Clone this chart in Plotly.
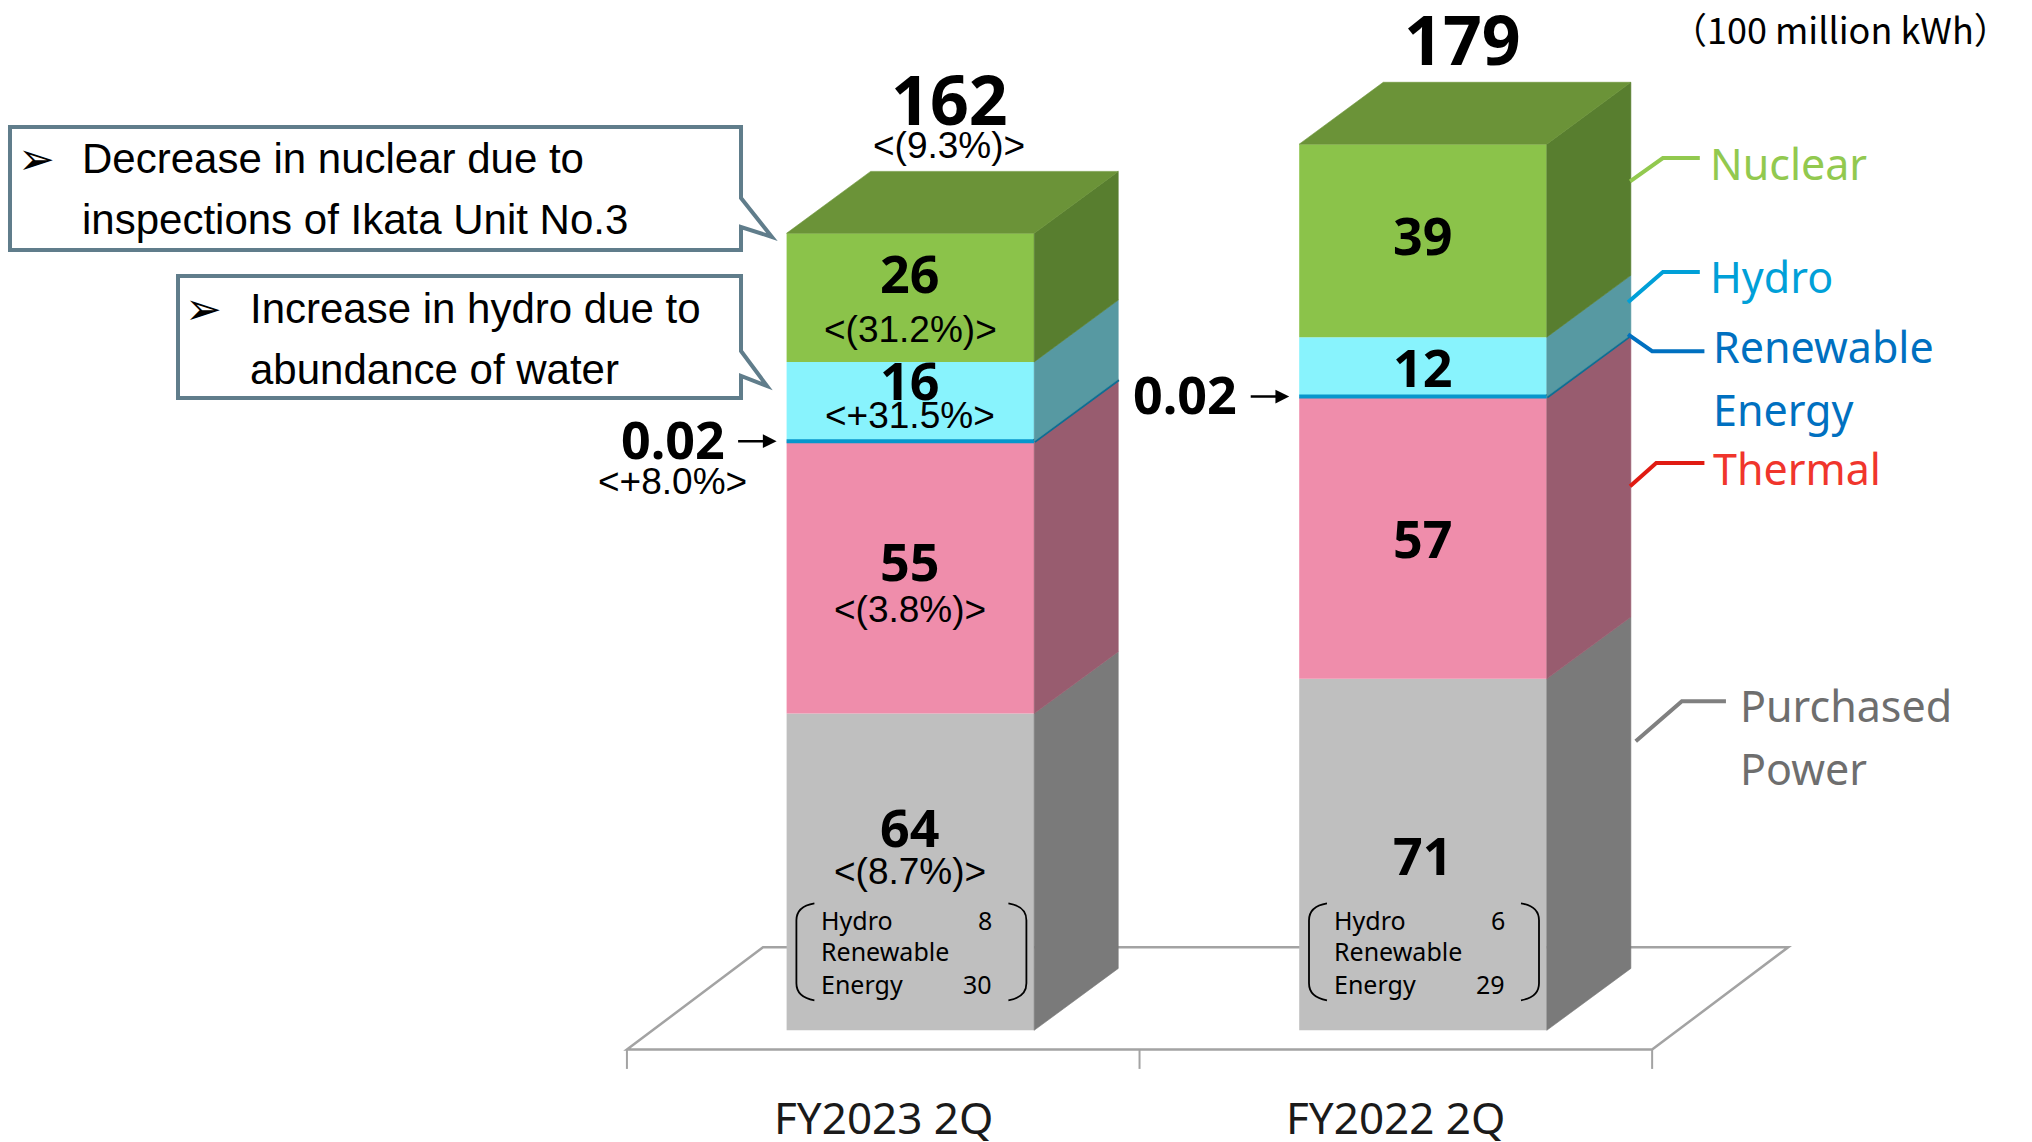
import plotly.graph_objects as go

# ---------------- data ----------------
categories = ["FY2023 2Q", "FY2022 2Q"]
purchased = [64, 71]
thermal = [55, 57]
renewable = [0.02, 0.02]
hydro = [16, 12]
nuclear = [26, 39]
totals = [162, 179]

total_change = ["<(9.3%)>", ""]
purchased_change = ["<(8.7%)>", ""]
thermal_change = ["<(3.8%)>", ""]
renewable_change = ["<+8.0%>", ""]
hydro_change = ["<+31.5%>", ""]
nuclear_change = ["<(31.2%)>", ""]

purchased_hydro = [8, 6]
purchased_renewable = [30, 29]

legend_names = ["Nuclear", "Hydro", "Renewable<br>Energy", "Thermal", "Purchased<br>Power"]
unit_label = "（100 million kWh）"
callout_lines = [
    ["Decrease in nuclear due to", "inspections of Ikata Unit No.3"],
    ["Increase in hydro due to", "abundance of water"],
]

# ---------------- geometry / style ----------------
W, H = 2032, 1142
X0PX, XU = 910.4, 512.6      # pixel of x=0, pixels per x unit
Y0PX, YU = 1030.3, 4.95      # pixel (from top) of y=0, pixels per value unit
XR = [-X0PX / XU, (W - X0PX) / XU]
YR = [(Y0PX - H) / YU, Y0PX / YU]
BW, DX, DY = 0.483, 0.164, 12.5
xpos = [0, 1]

C = dict(
    nuc_f="#8BC34A", nuc_s="#587E2F", nuc_t="#6B9338",
    hyd_f="#88F3FD", hyd_s="#5799A2",
    ren_f="#0797CC", ren_s="#0E6E93",
    the_f="#EF8DAB", the_s="#985C6F",
    pur_f="#BFBFBF", pur_s="#7A7A7A",
)

NUMF = "Noto Sans"
PCTF = "Liberation Sans"

fig = go.Figure()

# floor (below everything)
fl_x0, fl_x1 = -0.553, 1.447
fl_y0, fl_dx, fl_dy = -3.9, 0.2655, 20.7
fig.add_shape(type="path", xref="x", yref="y", layer="below",
              path=f"M {fl_x0},{fl_y0} L {fl_x1},{fl_y0} L {fl_x1+fl_dx},{fl_y0+fl_dy} "
                   f"L {fl_x0+fl_dx},{fl_y0+fl_dy} Z",
              fillcolor="white", line=dict(color="#A3A3A3", width=2.5))
for tx in [fl_x0, (fl_x0 + fl_x1) / 2, fl_x1]:
    fig.add_shape(type="line", xref="x", yref="y", layer="below",
                  x0=tx, x1=tx, y0=fl_y0, y1=fl_y0 - 3.9,
                  line=dict(color="#A3A3A3", width=2))

segments = [
    ("purchased", purchased, C["pur_f"], C["pur_s"]),
    ("thermal", thermal, C["the_f"], C["the_s"]),
    ("renewable", renewable, C["ren_f"], C["ren_s"]),
    ("hydro", hydro, C["hyd_f"], C["hyd_s"]),
    ("nuclear", nuclear, C["nuc_f"], C["nuc_s"]),
]

bases = [0.0, 0.0]
seg_bounds = {}
for name, vals, fcol, scol in segments:
    b = list(bases)
    seg_bounds[name] = [(b[i], b[i] + vals[i]) for i in range(2)]
    if name != "renewable":
        fig.add_trace(go.Bar(x=xpos, y=vals, base=b, width=BW, marker=dict(color=fcol, line=dict(width=0)),
                             showlegend=False, hoverinfo="skip"))
    for i, c in enumerate(xpos):
        y0, y1 = b[i], b[i] + vals[i]
        xr_ = c + BW / 2
        if name == "renewable":
            fig.add_trace(go.Scatter(x=[c - BW / 2, xr_], y=[y1, y1], mode="lines",
                                     line=dict(color=fcol, width=4), showlegend=False, hoverinfo="skip"))
            fig.add_trace(go.Scatter(x=[xr_, xr_ + DX], y=[y1, y1 + DY], mode="lines",
                                     line=dict(color=scol, width=4), showlegend=False, hoverinfo="skip"))
        else:
            fig.add_trace(go.Scatter(x=[xr_, xr_ + DX, xr_ + DX, xr_, xr_],
                                     y=[y0, y0 + DY, y1 + DY, y1, y0],
                                     fill="toself", fillcolor=scol, mode="lines",
                                     line=dict(color=scol, width=0.6), showlegend=False, hoverinfo="skip"))
    bases = [bases[i] + vals[i] for i in range(2)]

# top faces
for i, c in enumerate(xpos):
    t = bases[i]
    xl, xr_ = c - BW / 2, c + BW / 2
    fig.add_trace(go.Scatter(x=[xl, xr_, xr_ + DX, xl + DX, xl], y=[t, t, t + DY, t + DY, t],
                             fill="toself", fillcolor=C["nuc_t"], mode="lines",
                             line=dict(color=C["nuc_t"], width=0.6), showlegend=False, hoverinfo="skip"))

ann = []

def A(**kw):
    kw.setdefault("showarrow", False)
    kw.setdefault("xanchor", "center")
    kw.setdefault("yanchor", "middle")
    ann.append(kw)

# segment labels
num_vals = {"purchased": purchased, "thermal": thermal, "hydro": hydro, "nuclear": nuclear}
pct_vals = {"purchased": purchased_change, "thermal": thermal_change, "hydro": hydro_change, "nuclear": nuclear_change}
num_shift = {"nuclear": [25, 6], "hydro": [22, 0], "thermal": [17, 0], "purchased": [45, 0]}
pct_shift = {"nuclear": -32, "hydro": -14, "thermal": -32, "purchased": 0}
for name in ["purchased", "thermal", "hydro", "nuclear"]:
    for i, c in enumerate(xpos):
        y0, y1 = seg_bounds[name][i]
        mid = (y0 + y1) / 2
        A(x=c, y=mid, xref="x", yref="y", yshift=num_shift[name][i],
          text=f"<b>{num_vals[name][i]}</b>", font=dict(family=NUMF, size=52, color="black"))
        if pct_vals[name][i]:
            A(x=c, y=mid, xref="x", yref="y", yshift=pct_shift[name],
              text=pct_vals[name][i], font=dict(family=PCTF, size=37, color="black"))

# purchased breakdown
for i, c in enumerate(xpos):
    rows = [("Hydro", str(purchased_hydro[i]), 110), ("Renewable", "", 79), ("Energy", str(purchased_renewable[i]), 46)]
    for lab, v, ys in rows:
        A(x=c, y=0, xref="x", yref="y", xshift=-91, yshift=ys, xanchor="left",
          text=lab, font=dict(family="Noto Sans", size=25, color="black"))
        if v:
            A(x=c, y=0, xref="x", yref="y", xshift=84, yshift=ys, xanchor="right",
              text=v, font=dict(family="Noto Sans", size=25, color="black"))
    for path in ["M -96,127 Q -114,124 -114,110 L -114,47 Q -114,33 -96,30",
                 "M 98,127 Q 116,124 116,110 L 116,47 Q 116,33 98,30"]:
        fig.add_shape(type="path", xref="x", yref="y", xsizemode="pixel", ysizemode="pixel",
                      xanchor=c, yanchor=0, path=path, line=dict(color="black", width=1.8))

# renewable arrows
for i, c in enumerate(xpos):
    lvl = seg_bounds["renewable"][i][1]
    xl = c - BW / 2
    A(x=xl, y=lvl, xref="x", yref="y", xshift=-10, showarrow=True, ax=-40, ay=0,
      arrowhead=2, arrowsize=1.1, arrowwidth=2.5, arrowcolor="black", text="")
    A(x=xl, y=lvl, xref="x", yref="y", xshift=-114, yshift=3,
      text=f"<b>{renewable[i]}</b>", font=dict(family=NUMF, size=52, color="black"))
    if renewable_change[i]:
        A(x=xl, y=lvl, xref="x", yref="y", xshift=-114, yshift=-40,
          text=renewable_change[i], font=dict(family=PCTF, size=37, color="black"))

# totals
tot_shift = [73, 44]
for i, c in enumerate(xpos):
    top = bases[i] + DY
    A(x=c + DX / 2, y=top, xref="x", yref="y", xshift=-3, yshift=tot_shift[i],
      text=f"<b>{totals[i]}</b>", font=dict(family=NUMF, size=68, color="black"))
    if total_change[i]:
        A(x=c + DX / 2, y=top, xref="x", yref="y", xshift=-3, yshift=26,
          text=total_change[i], font=dict(family=PCTF, size=37, color="black"))

# category labels
for i, c in enumerate(xpos):
    A(x=c - 0.053, y=-17.6, xref="x", yref="y", text=categories[i],
      font=dict(family="Noto Sans", size=44, color="#1A1A1A"))

# legend labels with connectors
leg_colors = ["#92C94F", "#00A0D8", "#0070C0", "#F0352C", "#6E6E6E"]
line_colors = ["#92C94F", "#00A0D8", "#0070C0", "#E01B12", "#808080"]
leg_start = [(1.404, 171.5), (1.400, 147.1), (1.400, 140.6), (1.404, 109.9), (1.415, 58.4)]
leg_elbow = [(1.468, 176.2), (1.468, 153.2), (1.447, 137.2), (1.455, 114.6), (1.505, 66.5)]
leg_end_x = [1.540, 1.540, 1.549, 1.549, 1.591]
leg_text_x = [1.556, 1.556, 1.562, 1.562, 1.614]
leg_text_y = [175.2, 152.2, 138.1, 113.4, 65.7]
for k, nm in enumerate(legend_names):
    (sx, sy), (ex, ey) = leg_start[k], leg_elbow[k]
    fig.add_trace(go.Scatter(x=[sx, ex, leg_end_x[k]], y=[sy, ey, ey], mode="lines",
                             line=dict(color=line_colors[k], width=4), showlegend=False, hoverinfo="skip"))
    for j, part in enumerate(nm.split("<br>")):
        A(x=leg_text_x[k], y=leg_text_y[k], xref="x", yref="y", xanchor="left", yshift=-63 * j,
          text=part, font=dict(family="Noto Sans", size=43, color=leg_colors[k]))

# unit label
A(x=1840 / W, y=1 - 28 / H, xref="paper", yref="paper", text=unit_label,
  font=dict(family="Noto Sans CJK JP", size=36, color="black"))

# callout boxes
def P(px, py):
    return f"{px / W:.5f},{1 - py / H:.5f}"

boxes = [
    dict(l=10, t=127, r=741, b=250, n0=198, n1=227, tip=(772, 237), tx=80, bx=36, ly=[158, 220]),
    dict(l=178, t=276, r=741, b=398, n0=351, n1=376, tip=(767, 386), tx=248, bx=203, ly=[308, 369]),
]
for k, bx in enumerate(boxes):
    path = ("M " + P(bx["l"], bx["t"]) + " L " + P(bx["r"], bx["t"]) + " L " + P(bx["r"], bx["n0"]) +
            " L " + P(*bx["tip"]) + " L " + P(bx["r"], bx["n1"]) + " L " + P(bx["r"], bx["b"]) +
            " L " + P(bx["l"], bx["b"]) + " Z")
    fig.add_shape(type="path", xref="paper", yref="paper", path=path, fillcolor="white",
                  line=dict(color="#607D8B", width=4))
    A(x=bx["bx"] / W, y=1 - bx["ly"][0] / H, xref="paper", yref="paper", text="➢",
      font=dict(family="DejaVu Sans", size=44, color="black"))
    for j, line in enumerate(callout_lines[k]):
        A(x=bx["tx"] / W, y=1 - bx["ly"][j] / H, xref="paper", yref="paper", xanchor="left",
          text=line, font=dict(family="Liberation Sans", size=42, color="black"))

fig.update_layout(
    width=W, height=H, margin=dict(l=0, r=0, t=0, b=0, pad=0),
    paper_bgcolor="white", plot_bgcolor="white",
    barmode="overlay", showlegend=False,
    xaxis=dict(range=XR, visible=False, fixedrange=True),
    yaxis=dict(range=YR, visible=False, fixedrange=True),
    annotations=ann,
)
fig.write_html("out.html")
